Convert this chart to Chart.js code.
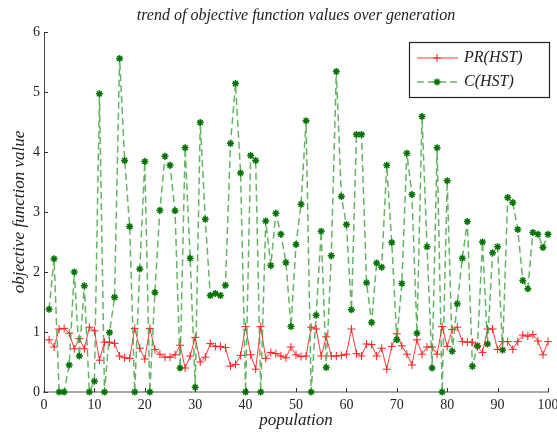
<!DOCTYPE html>
<html>
<head>
<meta charset="utf-8">
<script src="https://cdn.jsdelivr.net/npm/chart.js@4/dist/chart.umd.min.js"></script>
<style>
  html, body { margin: 0; padding: 0; background: #fff; }
  #wrap { width: 557px; height: 433px; }
</style>
</head>
<body>
<div id="wrap"><canvas id="trendChart" width="557" height="433"></canvas></div>
<script>
// generation index on the x axis (1..100)
const generations = Array.from({ length: 100 }, (_, i) => i + 1);

// PR(HST) values
const prHST = [
  0.87, 0.75, 1.05, 1.06, 0.98, 0.72, 0.89, 0.72, 1.08, 1.02,
  0.53, 0.83, 0.83, 0.81, 0.60, 0.57, 0.56, 1.06, 0.73, 0.55,
  1.06, 0.71, 0.63, 0.58, 0.58, 0.62, 0.78, 0.40, 0.60, 0.91,
  0.50, 0.58, 0.81, 0.76, 0.76, 0.74, 0.43, 0.46, 0.61, 1.09,
  0.62, 0.38, 1.09, 0.56, 0.66, 0.64, 0.60, 0.57, 0.75, 0.62,
  0.59, 0.60, 1.08, 1.05, 0.60, 0.92, 0.60, 0.60, 0.61, 0.63,
  1.05, 0.64, 0.60, 0.80, 0.79, 0.60, 0.73, 0.38, 0.76, 0.97,
  0.77, 0.63, 0.45, 0.87, 0.63, 0.75, 0.75, 0.63, 1.09, 0.76,
  1.04, 1.08, 0.84, 0.83, 0.83, 0.75, 0.66, 1.05, 1.05, 0.71,
  0.84, 0.84, 0.71, 0.84, 0.95, 0.93, 0.96, 0.85, 0.62, 0.84
];

// C(HST) values
const cHST = [
  1.38, 2.22, 0.00, 0.00, 0.45, 2.00, 0.60, 1.77, 0.00, 0.18,
  4.97, 0.00, 0.99, 1.58, 5.56, 3.86, 2.76, 0.00, 2.05, 3.84,
  0.00, 1.66, 3.03, 3.93, 3.78, 3.02, 0.40, 4.07, 2.23, 0.08,
  4.49, 2.88, 1.61, 1.64, 1.61, 1.78, 4.14, 5.14, 3.65, 0.00,
  3.94, 3.86, 0.00, 2.85, 2.11, 2.98, 2.63, 2.16, 1.09, 2.46,
  3.13, 4.52, 0.00, 1.28, 2.68, 0.41, 2.27, 5.34, 3.26, 2.79,
  1.37, 4.29, 4.29, 1.82, 1.16, 2.15, 2.08, 3.78, 2.49, 0.87,
  1.81, 3.98, 3.29, 0.98, 4.59, 2.42, 0.40, 4.07, 0.00, 3.52,
  0.68, 1.47, 2.23, 2.84, 0.43, 0.77, 2.50, 0.80, 2.32, 2.42,
  0.70, 3.24, 3.16, 2.71, 1.86, 1.72, 2.66, 2.63, 2.41, 2.63
];

const serif = "'Liberation Serif', 'DejaVu Serif', serif";

function toPoints(values) {
  return values.map((v, i) => ({ x: generations[i], y: v }));
}

// small tick marks pointing into the plot, like MATLAB
const innerTicks = {
  id: 'innerTicks',
  afterDraw(chart) {
    const { ctx, chartArea, scales } = chart;
    ctx.save();
    ctx.strokeStyle = '#333';
    ctx.lineWidth = 1;
    ctx.beginPath();
    scales.x.ticks.forEach(t => {
      const px = Math.round(scales.x.getPixelForValue(t.value)) + 0.5;
      ctx.moveTo(px, chartArea.bottom);
      ctx.lineTo(px, chartArea.bottom - 4);
    });
    scales.y.ticks.forEach(t => {
      const py = Math.round(scales.y.getPixelForValue(t.value)) + 0.5;
      ctx.moveTo(chartArea.left, py);
      ctx.lineTo(chartArea.left + 4, py);
    });
    ctx.stroke();
    ctx.restore();
  }
};

function drawMarker(ctx, style, x, y, r) {
  ctx.beginPath();
  ctx.moveTo(x - r, y); ctx.lineTo(x + r, y);
  ctx.moveTo(x, y - r); ctx.lineTo(x, y + r);
  if (style === 'star') {
    const d = r * Math.SQRT1_2;
    ctx.moveTo(x - d, y - d); ctx.lineTo(x + d, y + d);
    ctx.moveTo(x - d, y + d); ctx.lineTo(x + d, y - d);
  }
  ctx.stroke();
}

// boxed legend in the upper right corner of the axes
const boxLegend = {
  id: 'boxLegend',
  afterDatasetsDraw(chart) {
    const { ctx, chartArea } = chart;
    const w = 140, h = 55;
    const bx = chartArea.right + 1 - w, by = chartArea.top + 10;
    ctx.save();
    ctx.fillStyle = '#fff';
    ctx.fillRect(bx, by, w, h);
    ctx.strokeStyle = '#222';
    ctx.lineWidth = 1.2;
    ctx.strokeRect(bx + 0.5, by + 0.5, w, h);
    chart.data.datasets.forEach((ds, i) => {
      const ry = by + 16 + i * 24;
      ctx.strokeStyle = ds.borderColor;
      ctx.lineWidth = ds.borderWidth;
      ctx.setLineDash(ds.borderDash || []);
      ctx.beginPath();
      ctx.moveTo(bx + 8, ry);
      ctx.lineTo(bx + 49, ry);
      ctx.stroke();
      ctx.setLineDash([]);
      ctx.strokeStyle = ds.pointBorderColor;
      ctx.lineWidth = ds.pointBorderWidth;
      drawMarker(ctx, ds.pointStyle, bx + 28, ry, ds.pointRadius);
      ctx.fillStyle = '#222';
      ctx.font = 'italic 16px ' + serif;
      ctx.textBaseline = 'middle';
      ctx.fillText(ds.label, bx + 55, ry);
    });
    ctx.restore();
  }
};

const ctx = document.getElementById('trendChart').getContext('2d');

const config = {
  type: 'line',
  data: {
    datasets: [
      {
        label: 'PR(HST)',
        data: toPoints(prHST),
        borderColor: 'rgb(255, 60, 60)',
        borderWidth: 1,
        pointStyle: 'cross',
        pointRadius: 4,
        pointBorderColor: 'rgb(255, 30, 30)',
        pointBorderWidth: 1,
        tension: 0,
        clip: false,
        order: 1
      },
      {
        label: 'C(HST)',
        data: toPoints(cHST),
        borderColor: 'rgba(50, 155, 50, 0.75)',
        borderWidth: 1.5,
        borderDash: [7, 4],
        pointStyle: 'star',
        pointRadius: 3.5,
        pointBorderColor: 'rgb(0, 115, 0)',
        pointBorderWidth: 1.5,
        tension: 0,
        clip: false,
        order: 0
      }
    ]
  },
  options: {
    responsive: false,
    animation: false,
    layout: { padding: { left: 0, right: 9, top: 0, bottom: 0 } },
    plugins: {
      legend: { display: false },
      tooltip: { enabled: false },
      title: {
        display: true,
        fullSize: false,
        text: 'trend of objective function values over generation',
        color: '#222',
        font: { family: serif, size: 16, style: 'italic', weight: 'normal' },
        padding: { top: 6, bottom: 6.8 }
      }
    },
    scales: {
      x: {
        type: 'linear',
        min: 0,
        max: 100,
        ticks: { stepSize: 10, color: '#222', padding: 5, maxRotation: 0,
                 font: { family: serif, size: 14 } },
        grid: { display: false, drawTicks: false },
        border: { display: true, color: '#a8a8a8', width: 2 },
        title: {
          display: true,
          text: 'population',
          color: '#222',
          font: { family: serif, size: 17, style: 'italic' },
          padding: { top: 0, bottom: 2 }
        },
        afterFit: s => { s.height = 41; s.paddingLeft = 0; s.paddingRight = 0; }
      },
      y: {
        min: 0,
        max: 6,
        ticks: { stepSize: 1, color: '#222', padding: 4,
                 font: { family: serif, size: 14 } },
        grid: { display: false, drawTicks: false },
        border: { display: true, color: '#444', width: 1 },
        title: {
          display: true,
          text: 'objective function value',
          color: '#222',
          font: { family: serif, size: 17, style: 'italic' },
          padding: { top: 9, bottom: 0 }
        },
        afterFit: s => { s.width = 44; }
      }
    }
  },
  plugins: [innerTicks, boxLegend]
};

const trendChart = new Chart(ctx, config);
</script>
</body>
</html>
